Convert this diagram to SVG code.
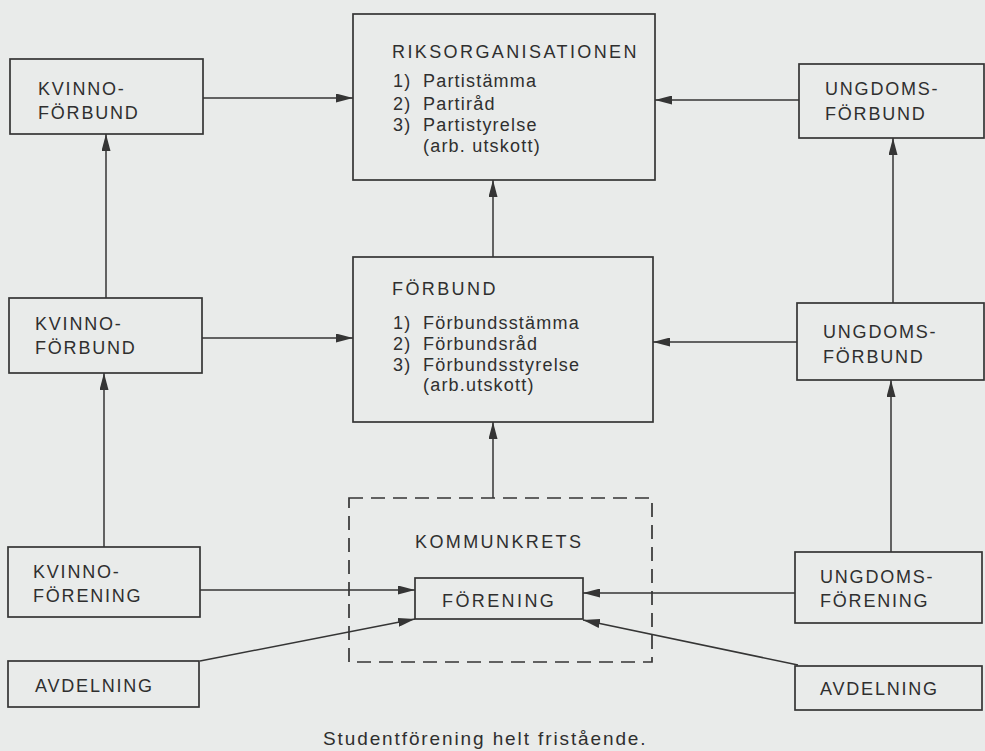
<svg xmlns="http://www.w3.org/2000/svg" width="985" height="751" viewBox="0 0 985 751">
<style>
.box{fill:none;stroke:#353535;stroke-width:1.7}
.dash{fill:none;stroke:#353535;stroke-width:1.7;stroke-dasharray:14 8}
.con{fill:none;stroke:#353535;stroke-width:1.5}
.cap{font-family:"Liberation Sans",Arial,sans-serif;font-size:18px;fill:#2f2f2f;letter-spacing:1.8px}
.ttl{font-family:"Liberation Sans",Arial,sans-serif;font-size:18px;fill:#2f2f2f;letter-spacing:2.4px}
.itm{font-family:"Liberation Sans",Arial,sans-serif;font-size:18px;fill:#2f2f2f;letter-spacing:1.2px}
.note{font-family:"Liberation Sans",Arial,sans-serif;font-size:19px;fill:#2f2f2f;letter-spacing:1.4px}
</style>
<defs>
<marker id="ah" markerUnits="userSpaceOnUse" markerWidth="18" markerHeight="9" refX="17" refY="4.5" orient="auto">
<path d="M0,0 L17,4.5 L0,9 z" fill="#353535"/>
</marker>
</defs>
<rect width="985" height="751" fill="#e9ebea"/>

<g id="connectors">
<line class="con" x1="203" y1="98" x2="353" y2="98" marker-end="url(#ah)"/>
<line class="con" x1="202" y1="338" x2="353" y2="338" marker-end="url(#ah)"/>
<line class="con" x1="106" y1="298" x2="106" y2="134" marker-end="url(#ah)"/>
<line class="con" x1="104" y1="547" x2="104" y2="373" marker-end="url(#ah)"/>
<line class="con" x1="200" y1="590" x2="415" y2="590" marker-end="url(#ah)"/>
<line class="con" x1="200" y1="661" x2="415" y2="619" marker-end="url(#ah)"/>
<line class="con" x1="799" y1="100" x2="655" y2="100" marker-end="url(#ah)"/>
<line class="con" x1="797" y1="342" x2="653" y2="342" marker-end="url(#ah)"/>
<line class="con" x1="893" y1="303" x2="893" y2="138" marker-end="url(#ah)"/>
<line class="con" x1="891" y1="552" x2="891" y2="380" marker-end="url(#ah)"/>
<line class="con" x1="795" y1="593" x2="583" y2="593" marker-end="url(#ah)"/>
<line class="con" x1="798" y1="665" x2="583" y2="620" marker-end="url(#ah)"/>
<line class="con" x1="493" y1="257" x2="493" y2="180" marker-end="url(#ah)"/>
<line class="con" x1="493" y1="498" x2="493" y2="422" marker-end="url(#ah)"/>
</g>

<g id="riksorganisationen">
<rect class="box" x="353" y="14" width="302" height="166"/>
<text class="ttl" x="392" y="58">RIKSORGANISATIONEN</text>
<text class="itm" x="393" y="87">1)</text><text class="itm" x="423" y="87">Partistämma</text>
<text class="itm" x="393" y="110">2)</text><text class="itm" x="423" y="110">Partiråd</text>
<text class="itm" x="393" y="131">3)</text><text class="itm" x="423" y="131">Partistyrelse</text>
<text class="itm" x="423" y="152">(arb. utskott)</text>
</g>

<g id="forbund">
<rect class="box" x="353" y="257" width="300" height="165"/>
<text class="ttl" x="392" y="295">FÖRBUND</text>
<text class="itm" x="393" y="329">1)</text><text class="itm" x="423" y="329">Förbundsstämma</text>
<text class="itm" x="393" y="350">2)</text><text class="itm" x="423" y="350">Förbundsråd</text>
<text class="itm" x="393" y="371">3)</text><text class="itm" x="423" y="371">Förbundsstyrelse</text>
<text class="itm" x="423" y="391">(arb.utskott)</text>
</g>

<g id="kommunkrets">
<rect class="dash" x="349" y="498" width="303" height="164"/>
<text class="ttl" x="415" y="548">KOMMUNKRETS</text>
</g>

<g id="forening">
<rect class="box" x="415" y="578" width="168" height="41"/>
<text class="ttl" x="442" y="607">FÖRENING</text>
</g>

<g id="kvinnoforbund-top">
<rect class="box" x="10" y="59" width="193" height="75"/>
<text class="cap" x="38" y="95">KVINNO-</text>
<text class="cap" x="38" y="119">FÖRBUND</text>
</g>

<g id="kvinnoforbund-mid">
<rect class="box" x="9" y="298" width="193" height="75"/>
<text class="cap" x="35" y="330">KVINNO-</text>
<text class="cap" x="35" y="354">FÖRBUND</text>
</g>

<g id="kvinnoforening">
<rect class="box" x="8" y="547" width="192" height="70"/>
<text class="cap" x="33" y="578">KVINNO-</text>
<text class="cap" x="33" y="602">FÖRENING</text>
</g>

<g id="avdelning-left">
<rect class="box" x="8" y="661" width="191" height="46"/>
<text class="cap" x="35" y="692">AVDELNING</text>
</g>

<g id="ungdomsforbund-top">
<rect class="box" x="799" y="64" width="185" height="74"/>
<text class="cap" x="825" y="95">UNGDOMS-</text>
<text class="cap" x="825" y="120">FÖRBUND</text>
</g>

<g id="ungdomsforbund-mid">
<rect class="box" x="797" y="303" width="187" height="77"/>
<text class="cap" x="823" y="338">UNGDOMS-</text>
<text class="cap" x="823" y="363">FÖRBUND</text>
</g>

<g id="ungdomsforening">
<rect class="box" x="795" y="552" width="187" height="71"/>
<text class="cap" x="820" y="583">UNGDOMS-</text>
<text class="cap" x="820" y="607">FÖRENING</text>
</g>

<g id="avdelning-right">
<rect class="box" x="795" y="666" width="187" height="44"/>
<text class="cap" x="820" y="695">AVDELNING</text>
</g>

<text class="note" x="323" y="745" textLength="324" lengthAdjust="spacing">Studentförening helt fristående.</text>
</svg>
